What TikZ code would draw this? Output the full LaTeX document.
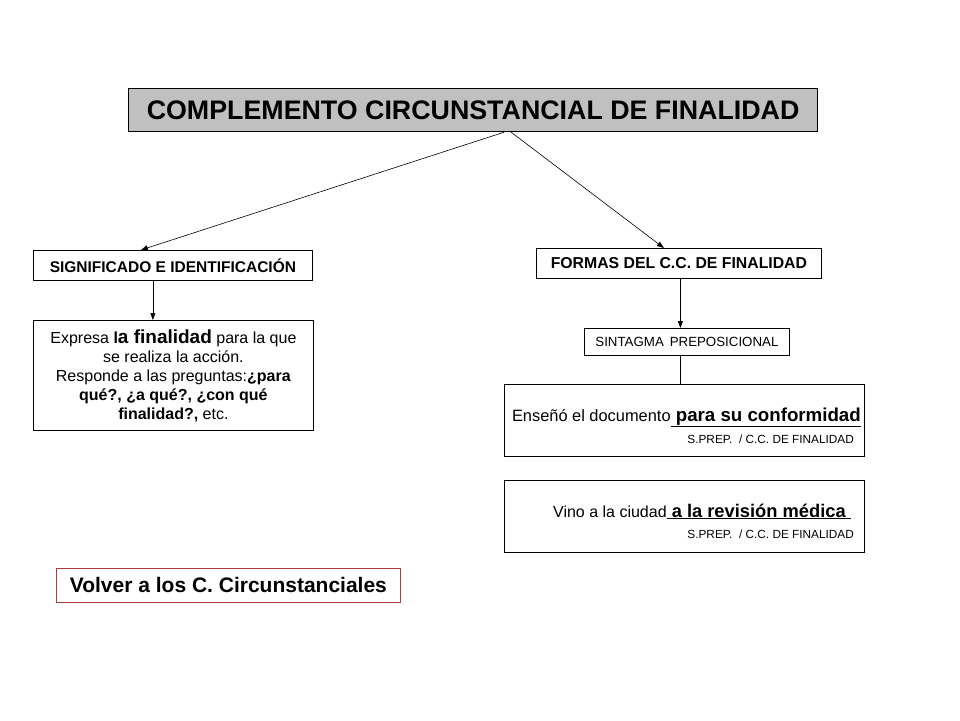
\documentclass[tikz,border=0pt]{standalone}
\usepackage{fontspec}
\setmainfont{Liberation Sans}
\usetikzlibrary{arrows.meta}
\definecolor{titlegray}{RGB}{192,192,192}
\definecolor{backred}{RGB}{175,60,60}
\begin{document}
\begin{tikzpicture}[x=1pt, y=-1pt,
    box/.style={draw, line width=0.8pt, inner sep=0pt, anchor=north west},
    arr/.style={-{Triangle[length=7pt,width=5pt]}, line width=0.6pt}]
    \useasboundingbox (0,0) rectangle (960,720);
    % top box
    \node[box, fill=titlegray, line width=1.2pt, minimum width=689pt, minimum height=43pt] (title) at (128,88)
        {\fontsize{26.8}{30}\selectfont\bfseries COMPLEMENTO CIRCUNSTANCIAL DE FINALIDAD};
    % left branch
    \node[box, minimum width=279pt, minimum height=30pt] (signif) at (33,250)
        {\fontsize{15.5}{18}\selectfont\bfseries SIGNIFICADO E IDENTIFICACIÓN};
    \node[box, minimum width=280pt, minimum height=110pt, align=center,
          font=\fontsize{16}{19}\selectfont] (expresa) at (33,320)
        {Expresa \textbf{l{\fontsize{19}{19}\selectfont a finalidad}} para la que\\
         se realiza la acción.\\
         Responde a las preguntas:\textbf{¿para}\\
         \textbf{qué?, ¿a qué?, ¿con qué}\\
         \textbf{finalidad?,} etc.};
    % right branch
    \node[box, minimum width=285pt, minimum height=30pt] (formas) at (536,248)
        {\fontsize{15.8}{18}\selectfont\bfseries FORMAS DEL C.C. DE FINALIDAD};
    \node[box, minimum width=205pt, minimum height=27pt] (sintagma) at (584,328)
        {\fontsize{13.3}{15}\selectfont SINTAGMA\, PREPOSICIONAL};
    \node[box, minimum width=360pt, minimum height=72pt] (ejemplo1) at (504,384) {};
    \node[anchor=base east, inner sep=0pt] (frase1) at (861,421)
        {\fontsize{16.4}{19}\selectfont Enseñó el documento\underline{\fontsize{18.7}{22}\selectfont\bfseries\ para su conformidad}};
    \node[anchor=base east, inner sep=0pt] (func1) at (854,443)
        {\fontsize{11.8}{14}\selectfont S.PREP.\ \ / C.C. DE FINALIDAD};
    \node[box, minimum width=360pt, minimum height=72pt] (ejemplo2) at (504,480) {};
    \node[anchor=base east, inner sep=0pt] (frase2) at (851,517)
        {\fontsize{16}{19}\selectfont Vino a la ciudad\underline{\fontsize{18.3}{22}\selectfont\bfseries\ a la revisión médica\ }};
    \node[anchor=base east, inner sep=0pt] (func2) at (854,538)
        {\fontsize{11.8}{14}\selectfont S.PREP.\ \ / C.C. DE FINALIDAD};
    % back link
    \node[box, draw=backred, minimum width=344pt, minimum height=34pt] (volver) at (56,568)
        {\fontsize{21}{24}\selectfont\bfseries Volver\ a los C. Circunstanciales};
    % connectors
    \draw[arr] ([xshift=31pt]title.south) -- ([xshift=-32pt]signif.north);
    \draw[arr] ([xshift=38pt]title.south) -- ([xshift=-15pt]formas.north);
    \draw[arr] ([xshift=-20pt]signif.south) -- ([xshift=-20pt]signif.south |- expresa.north);
    \draw[arr] ([xshift=1.5pt]formas.south) -- ([xshift=1.5pt]formas.south |- sintagma.north);
    \draw[line width=0.6pt] ([xshift=-6.5pt]sintagma.south) -- ([xshift=-6.5pt]sintagma.south |- ejemplo1.north);
\end{tikzpicture}
\end{document}
